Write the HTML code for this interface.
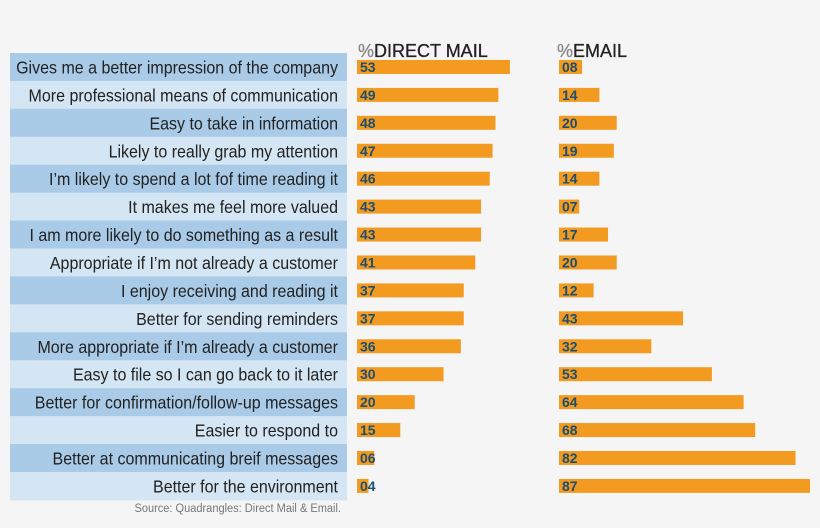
<!DOCTYPE html>
<html><head><meta charset="utf-8"><style>
html,body{margin:0;padding:0;background:#f5f5f5;}
svg{display:block;font-family:"Liberation Sans",sans-serif;}
</style></head><body>
<svg id="chart" width="820" height="528" viewBox="0 0 820 528">
<rect width="820" height="528" fill="#f5f5f5"/>
<text x="358" y="57" font-size="18" fill="#222" stroke="#222" stroke-width="0.3"><tspan fill="#888" stroke="#888">%</tspan>DIRECT MAIL</text>
<text x="557" y="57" font-size="18" fill="#222" stroke="#222" stroke-width="0.3"><tspan fill="#888" stroke="#888">%</tspan>EMAIL</text>
<g id="rows"></g>
<text transform="translate(341,512) scale(0.92,1)" font-size="12" fill="#777" text-anchor="end">Source: Quadrangles: Direct Mail &amp; Email.</text>
</svg>
<script>
const categories=["Gives me a better impression of the company","More professional means of communication","Easy to take in information","Likely to really grab my attention","I’m likely to spend a lot fof time reading it","It makes me feel more valued","I am more likely to do something as a result","Appropriate if I’m not already a customer","I enjoy receiving and reading it","Better for sending reminders","More appropriate if I’m already a customer","Easy to file so I can go back to it later","Better for confirmation/follow-up messages","Easier to respond to","Better at communicating breif messages","Better for the environment"];
const directMail=[53,49,48,47,46,43,43,41,37,37,36,30,20,15,6,4];
const email=[8,14,20,19,14,7,17,20,12,43,32,53,64,68,82,87];
const NS="http://www.w3.org/2000/svg";
const g=document.getElementById("rows");
const k=2.885, rowTop=53, rowH=27.93;
const y=i=>rowTop+rowH*i;
const xw=v=>v*k;
function mk(t,a){const e=document.createElementNS(NS,t);for(const n in a)e.setAttribute(n,a[n]);g.appendChild(e);return e;}
const pad=v=>(v<10?"0":"")+v;
categories.forEach((c,i)=>{
  const band=mk("rect",{x:10,y:y(i),width:337,height:rowH+0.5,fill:i%2===0?"#a9cbe8":"#d4e5f4"});
  
  
  const t=mk("text",{transform:`translate(338,${y(i)+rowH/2+6.5}) scale(0.89,1)`,"font-size":18,"text-anchor":"end",fill:"#222"});
  t.textContent=c;
  
  
  [[directMail,357,'direct-mail-bar','direct-mail-value'],[email,559,'email-bar','email-value']].forEach(([arr,x0,bn,vn])=>{
    const b=mk("rect",{x:x0,y:y(i)+rowH/2-7,width:xw(arr[i]),height:14,fill:"#f39a21"});
    
    
    const v=mk("text",{x:x0+3,y:y(i)+rowH/2+5,"font-size":14,"font-weight":"bold",fill:"#1d4f6e"});
    v.textContent=pad(arr[i]);
    
    
  });
});
</script>
</body></html>
